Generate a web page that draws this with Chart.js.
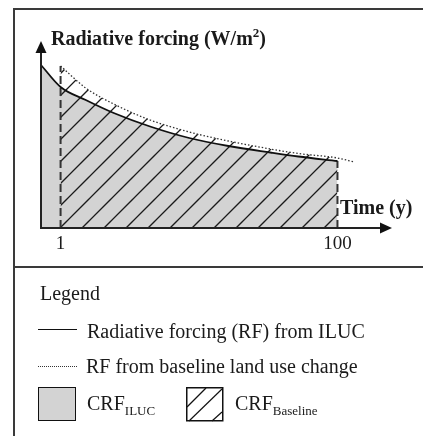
<!DOCTYPE html>
<html><head><meta charset="utf-8">
<script src="https://cdn.jsdelivr.net/npm/chart.js@4.4.1/dist/chart.umd.min.js"></script>
<style>
html,body{margin:0;padding:0;background:#fff;}
#wrap{position:relative;width:423px;height:436px;overflow:hidden;font-family:'Liberation Serif','Times New Roman',serif;color:#1a1a1a;}
#c{position:absolute;left:0;top:0;}
.t{position:absolute;white-space:nowrap;line-height:20px;font-size:20px;}
.b{font-weight:bold;}
.fr{position:absolute;background:#3a3a3a;}
sub.s{font-size:13px;vertical-align:baseline;position:relative;top:5px;}
sup.s{font-size:13px;vertical-align:baseline;position:relative;top:-8px;}
</style></head>
<body>
<div id="wrap">
  <canvas id="c" width="423" height="436"></canvas>
  <div class="fr" style="left:13px;top:8px;width:410px;height:2px"></div>
  <div class="fr" style="left:13px;top:8px;width:2px;height:428px"></div>
  <div class="fr" style="left:13px;top:266px;width:410px;height:2px"></div>

  <div class="t b" style="left:51px;top:28px">Radiative forcing (W/m<sup class="s">2</sup>)</div>
  <div class="t b" style="left:340px;top:197px">Time (y)</div>

  <div class="t" style="left:40px;top:283px">Legend</div>
  <div style="position:absolute;left:38px;top:329px;width:39px;border-top:1.5px solid #111"></div>
  <div class="t" style="left:87px;top:321px">Radiative forcing (RF) from ILUC</div>
  <div style="position:absolute;left:38px;top:366px;width:39px;border-top:1px dotted #333"></div>
  <div class="t" style="left:86px;top:356px">RF from baseline land use change</div>
  <div style="position:absolute;left:38px;top:387px;width:36px;height:32px;background:#d3d3d3;border:1.5px solid #111"></div>
  <div class="t" style="left:87px;top:393px">CRF<sub class="s">ILUC</sub></div>
  <svg style="position:absolute;left:186px;top:387px" width="39" height="35">
    <rect x="0.75" y="0.75" width="36" height="33" fill="#fff" stroke="#111" stroke-width="1.5"/>
    <line x1="1" y1="20" x2="20" y2="1" stroke="#111" stroke-width="1.2"/>
    <line x1="3" y1="34" x2="36" y2="2" stroke="#111" stroke-width="1.2"/>
    <line x1="26" y1="34" x2="36" y2="25" stroke="#111" stroke-width="1.2"/>
  </svg>
  <div class="t" style="left:235px;top:393px">CRF<sub class="s">Baseline</sub></div>
</div>
<script>
// ---- data (arbitrary RF units, time in years) ----
const xTicks = [1, 100];
const iluc_t  = [-6, 1, 10, 20, 33, 47, 61, 76, 86, 100];
const iluc_rf = [1.63, 1.41, 1.28, 1.15, 1.015, 0.90, 0.82, 0.755, 0.715, 0.67];
const base_t  = [1, 10, 20, 33, 47, 61, 76, 86, 100, 106];
const base_rf = [1.62, 1.40, 1.24, 1.08, 0.96, 0.87, 0.79, 0.745, 0.70, 0.66];
const xRange = [-6, 119.5];
const yRange = [0, 1.87];

const pts = (xs, ys) => xs.map((x, i) => ({x, y: ys[i]}));
const hatchT = base_t.filter(t => t <= 100);
const hatchRF = base_rf.slice(0, hatchT.length);

// hatch pattern
const pc = document.createElement('canvas');
pc.width = 22; pc.height = 22;
const g = pc.getContext('2d');
g.strokeStyle = '#1a1a1a'; g.lineWidth = 1.3;
g.beginPath();
g.moveTo(-2, 4); g.lineTo(4, -2);
g.moveTo(0, 24); g.lineTo(24, 0);
g.stroke();
const hatch = g.createPattern(pc, 'repeat');

const axesArrows = {
  id: 'axesArrows',
  afterDatasetsDraw(chart) {
    const {ctx, chartArea: a, scales: {x, y}} = chart;
    const x0 = x.getPixelForValue(xRange[0]);
    const y0 = y.getPixelForValue(0);
    ctx.save();
    ctx.strokeStyle = '#222'; ctx.fillStyle = '#111'; ctx.lineWidth = 2;
    ctx.beginPath();
    ctx.moveTo(x0, y0 + 1); ctx.lineTo(x0, a.top + 10);
    ctx.moveTo(x0 - 1, y0); ctx.lineTo(a.right - 10, y0);
    ctx.stroke();
    ctx.beginPath();
    ctx.moveTo(x0, a.top); ctx.lineTo(x0 - 5.5, a.top + 12); ctx.lineTo(x0 + 5.5, a.top + 12); ctx.closePath(); ctx.fill();
    ctx.beginPath();
    ctx.moveTo(a.right, y0); ctx.lineTo(a.right - 12, y0 - 5.5); ctx.lineTo(a.right - 12, y0 + 5.5); ctx.closePath(); ctx.fill();
    ctx.restore();
  }
};

new Chart(document.getElementById('c'), {
  type: 'line',
  data: {
    datasets: [
      { label: 'RF ILUC', data: pts(iluc_t, iluc_rf), borderColor: '#111', borderWidth: 1.8, pointRadius: 0, fill: false, cubicInterpolationMode: 'monotone', order: 1 },
      { label: 'RF baseline', data: pts(base_t, base_rf), borderColor: '#333', borderWidth: 1.3, borderDash: [1.5, 2], pointRadius: 0, fill: false, cubicInterpolationMode: 'monotone', order: 2 },
      { label: 't1', data: [{x: xTicks[0], y: 0}, {x: xTicks[0], y: base_rf[0]}], borderColor: '#333', borderWidth: 2, borderDash: [8, 4], pointRadius: 0, fill: false, tension: 0, order: 3 },
      { label: 't100', data: [{x: xTicks[1], y: 0}, {x: xTicks[1], y: iluc_rf[iluc_rf.length - 1]}], borderColor: '#333', borderWidth: 2, borderDash: [8, 4], pointRadius: 0, fill: false, tension: 0, order: 3 },
      { label: 'CRF baseline', data: pts(hatchT, hatchRF), borderColor: 'rgba(0,0,0,0)', borderWidth: 0, backgroundColor: hatch, pointRadius: 0, fill: 'origin', cubicInterpolationMode: 'monotone', order: 8 },
      { label: 'CRF ILUC', data: pts(iluc_t, iluc_rf), borderColor: 'rgba(0,0,0,0)', borderWidth: 0, backgroundColor: '#d3d3d3', pointRadius: 0, fill: 'origin', cubicInterpolationMode: 'monotone', order: 9 }
    ]
  },
  options: {
    responsive: false,
    devicePixelRatio: 1,
    animation: false,
    events: [],
    layout: { padding: { left: 41, right: 31, top: 41, bottom: 178 } },
    plugins: { legend: { display: false }, tooltip: { enabled: false } },
    scales: {
      x: {
        type: 'linear', min: xRange[0], max: xRange[1],
        grid: { display: false, drawTicks: false },
        border: { display: false },
        ticks: { color: '#1a1a1a', font: { family: "'Liberation Serif', serif", size: 19 }, padding: 5, maxRotation: 0, autoSkip: false },
        afterBuildTicks: s => { s.ticks = xTicks.map(v => ({value: v})); },
        afterFit: s => { s.height = 30; }
      },
      y: { display: false, min: yRange[0], max: yRange[1] }
    }
  },
  plugins: [axesArrows]
});
</script>
</body></html>
